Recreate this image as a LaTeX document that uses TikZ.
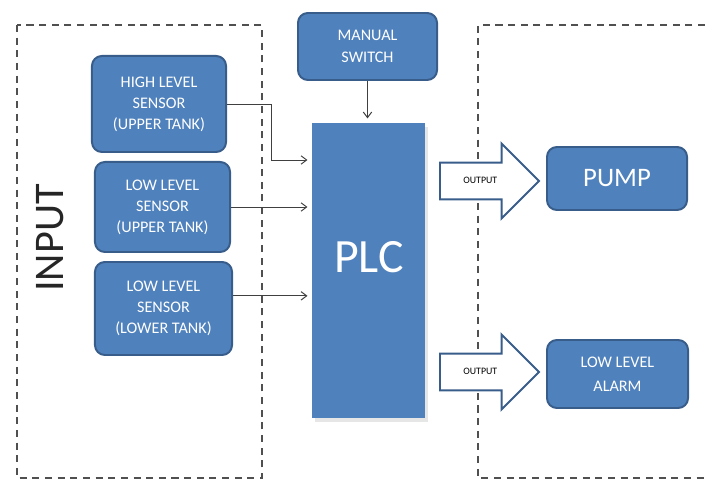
\documentclass[tikz,border=0pt]{standalone}
\usepackage{fontspec}
\setmainfont{Carlito}
\usetikzlibrary{shapes.arrows,arrows.meta,shadows}
\definecolor{boxblue}{HTML}{4F81BD}
\definecolor{boxedge}{HTML}{385D8A}
\definecolor{dashgray}{HTML}{505050}
\begin{document}
\begin{tikzpicture}[x=0.025cm,y=-0.025cm,
  block/.style={draw=boxedge,line width=1.4pt,fill=boxblue,rounded corners=7pt,
    text=white,align=center,font=\fontsize{11.5}{15}\selectfont,inner sep=0pt},
  area/.style={draw=dashgray,line width=1pt,dash pattern=on 5pt off 4pt},
  sig/.style={draw=black!75,line width=0.7pt,-{Straight Barb[length=4pt,width=6pt]},shorten >=3pt},
  outarrow/.style={single arrow,draw=boxedge,line width=1.4pt,fill=white,
    minimum height=2.475cm,single arrow head extend=0.475cm,
    text height=4pt,text depth=1pt,inner ysep=9.9pt,inner xsep=0pt,
    font=\fontsize{7}{8}\selectfont,anchor=tail}]
\useasboundingbox (0,0) rectangle (705,484);

% regions
\draw[area] (17,25) rectangle (262,478);
\draw[area] (705,25) -- (478,25) -- (478,478) -- (705,478);
\node[rotate=90,font=\fontsize{30}{32}\selectfont,text=black!85] (input) at (50,238) {INPUT};

% sensors
\node[block,minimum width=3.35cm,minimum height=2.4cm] (hls) at (159,104) {HIGH LEVEL\\SENSOR\\(UPPER TANK)};
\node[block,minimum width=3.375cm,minimum height=2.25cm] (llsu) at (162.5,207) {LOW LEVEL\\SENSOR\\(UPPER TANK)};
\node[block,minimum width=3.425cm,minimum height=2.325cm] (llsl) at (163.5,308.5) {LOW LEVEL\\SENSOR\\(LOWER TANK)};

% controller
\node[block,minimum width=3.475cm,minimum height=1.675cm,font=\fontsize{11.5}{16}\selectfont] (switch) at (367.5,46.5) {MANUAL\\SWITCH};
\node[fill=boxblue,minimum width=2.825cm,minimum height=7.375cm,
  drop shadow={opacity=0.2,shadow xshift=2pt,shadow yshift=-3pt}] (plc) at (368.5,270.5) {};
\node[text=white,font=\fontsize{34}{36}\selectfont] (plctext) at (369,257) {PLC};

% signals
\coordinate (in1) at (307,160);
\coordinate (in3) at ([yshift=9pt]llsl.east);
\draw[sig] (hls.east) -- ++(44,0) |- (plc.west |- in1);
\draw[sig] (llsu.east) -- (llsu.east -| plc.west);
\draw[sig] (in3) -- (in3 -| plc.west);
\draw[sig] (switch.south) -- (switch.south |- plc.north);

% outputs
\node[outarrow] (out1) at (439,181) {OUTPUT};
\node[outarrow] (out2) at (439,372) {OUTPUT};
\node[block,minimum width=3.5cm,minimum height=1.575cm,font=\fontsize{19}{22}\selectfont] (pump) at (617,178.5) {PUMP};
\node[block,minimum width=3.525cm,minimum height=1.7cm,font=\fontsize{11.5}{17}\selectfont] (alarm) at (617.5,374) {LOW LEVEL\\ALARM};

\end{tikzpicture}
\end{document}
